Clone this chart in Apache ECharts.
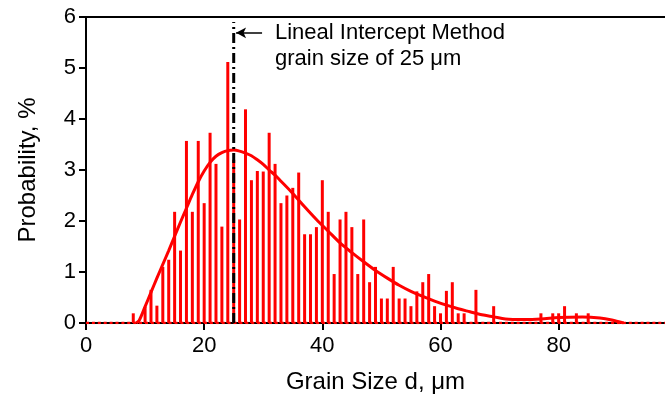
<!DOCTYPE html>
<html><head><meta charset="utf-8">
<script src="https://cdn.jsdelivr.net/npm/echarts@6/dist/echarts.min.js"></script>
<style>html,body{margin:0;padding:0;background:#fff}#c{width:665px;height:409px}</style>
</head><body><div id="c"></div>
<script>
// Histogram bins (grain size, µm) and probability (%)
const grainSizes = [8,9,10,11,12,13,14,15,16,17,18,19,20,21,22,23,24,25,26,27,28,29,30,31,32,33,34,35,36,37,38,39,40,41,42,43,44,45,46,47,48,49,50,51,52,53,54,55,56,57,58,59,60,61,62,63,64,65,66,67,68,69,70,71,72,73,74,75,76,77,78,79,80,81,82,83,84,85];
const probabilities = [0.19,0,0.32,0.65,0.34,1.1,1.24,2.18,1.42,3.57,2.18,3.57,2.35,3.73,3.12,1.89,5.12,3.2,2.03,4.19,2.8,2.98,2.97,3.73,3.12,2.35,2.5,2.65,2.95,1.74,1.74,1.88,2.8,2.18,0.96,2.03,2.18,1.88,0.96,2.03,0.8,1.1,0.48,0.48,1.1,0.48,0.48,0.33,0.62,0.8,0.96,0.33,0.19,0.63,0.8,0.19,0.19,0,0.65,0,0,0.33,0,0,0,0,0,0,0,0.19,0,0.19,0.19,0.33,0,0.19,0,0.19];
// Fitted distribution curve
const fitX = [8.5,9,10,11,12,13,14,15,16,17,18,19,20,21,22,23,24,25,26,27,28,29,30,31,32,33,35,37,39,41,43,45,47,49,51,53,55,57,59,61,63,65,67,69,71,74,77,80,84,87,89,91];
const fitY = [0,0.05,0.32,0.6,0.88,1.15,1.42,1.7,1.98,2.25,2.52,2.77,2.98,3.15,3.27,3.34,3.38,3.39,3.37,3.33,3.28,3.2,3.11,3.0,2.9,2.78,2.54,2.28,2.03,1.8,1.57,1.38,1.2,1.03,0.88,0.74,0.62,0.52,0.43,0.35,0.28,0.22,0.16,0.12,0.08,0.07,0.08,0.11,0.12,0.1,0.06,0];
const xTicks = [0,20,40,60,80];
const yTicks = [0,1,2,3,4,5,6];
const interceptSize = 25;      // lineal intercept method grain size
const markerTop = 5.9;
const arrowY = 5.69;
const arrowFromX = 29.8;
const annotationLines = ['Lineal Intercept Method','grain size of 25 \u03bcm'];

const font = "'Liberation Sans', Arial, sans-serif";
const chart = echarts.init(document.getElementById('c'), null, {renderer:'canvas'});
const xMax = 98;

chart.setOption({
  animation:false,
  backgroundColor:'#fff',
  textStyle:{fontFamily:font},
  grid:{left:86, right:0, top:17, bottom:86, containLabel:false},
  xAxis:[{
    type:'value', min:xTicks[0], max:xMax, interval:xTicks[1]-xTicks[0],
    axisLine:{show:true,onZero:false,lineStyle:{color:'#000',width:2}},
    axisTick:{show:true,length:7,lineStyle:{color:'#000',width:2}},
    axisLabel:{fontSize:22,color:'#000',margin:12,fontFamily:font,showMaxLabel:false,
      formatter:v=>xTicks.includes(v)?String(v):''},
    splitLine:{show:false},
    name:'Grain Size d, \u03bcm', nameLocation:'middle', nameGap:47,
    nameTextStyle:{fontSize:24,color:'#000',fontFamily:font}
  },{
    type:'value', position:'top', min:xTicks[0], max:xMax,
    axisLine:{show:true,onZero:false,lineStyle:{color:'#000',width:2}},
    axisTick:{show:false}, axisLabel:{show:false}, splitLine:{show:false}
  }],
  yAxis:{
    type:'value', min:yTicks[0], max:yTicks[yTicks.length-1], interval:1,
    axisLine:{show:true,lineStyle:{color:'#000',width:2}},
    axisTick:{show:true,length:7,lineStyle:{color:'#000',width:2}},
    axisLabel:{fontSize:22,color:'#000',margin:10,fontFamily:font},
    splitLine:{show:false},
    name:'Probability, %', nameLocation:'middle', nameGap:46, nameRotate:90,
    nameTextStyle:{fontSize:24,color:'#000',fontFamily:font}
  },
  series:[
    {
      type:'bar', xAxisIndex:0, barWidth:3, silent:true, z:2,
      itemStyle:{color:'#ff0000'},
      data:grainSizes.map((g,i)=>[g,probabilities[i]])
    },
    {
      type:'line', xAxisIndex:0, symbol:'none', silent:true, z:3,
      lineStyle:{color:'#ff0000',width:2.5,type:[3,2.9]},
      data:[[0,0],[xMax,0]]
    },
    {
      type:'line', xAxisIndex:0, symbol:'none', smooth:0.3, silent:true, z:4,
      lineStyle:{color:'#ff0000',width:3},
      data:fitX.map((x,i)=>[x,fitY[i]])
    },
    {
      type:'line', xAxisIndex:0, symbol:'none', silent:true, z:5,
      lineStyle:{color:'#000',width:3,type:[10,4,2,4]},
      data:[[interceptSize,0],[interceptSize,markerTop]],
      markLine:{
        silent:true, symbol:['none','arrow'], symbolSize:[8,10],
        label:{show:false},
        lineStyle:{color:'#000',width:1.5,type:'solid'},
        data:[[{coord:[arrowFromX,arrowY]},{coord:[interceptSize+0.4,arrowY]}]]
      }
    }
  ],
  graphic:[
    {type:'text', left:275, top:22, style:{text:annotationLines[0], font:"22px 'Liberation Sans', Arial, sans-serif", fill:'#000'}},
    {type:'text', left:275, top:48, style:{text:annotationLines[1], font:"22px 'Liberation Sans', Arial, sans-serif", fill:'#000'}}
  ]
});
</script>
</body></html>
